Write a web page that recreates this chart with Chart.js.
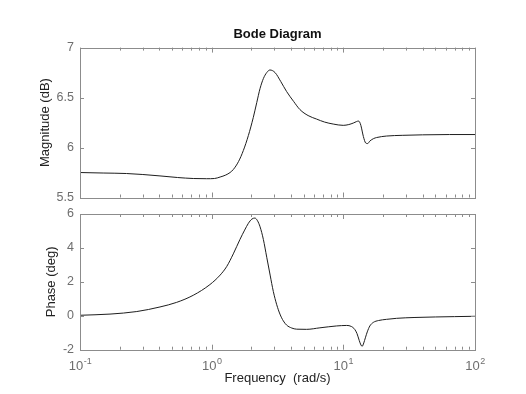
<!DOCTYPE html>
<html>
<head>
<meta charset="utf-8">
<script src="https://cdn.jsdelivr.net/npm/chart.js@4"></script>
<style>
html, body { margin: 0; padding: 0; background: #fff; }
#wrap { position: relative; width: 526px; height: 394px; }
canvas { position: absolute; left: 0; }
</style>
</head>
<body>
<div id="wrap">
  <canvas id="magChart" width="526" height="211" style="top:0"></canvas>
  <canvas id="phaseChart" width="526" height="194" style="top:200px"></canvas>
</div>
<script>
// magnitude curve (rad/s, dB)
const magFreq = [0.1, 0.15, 0.226, 0.3, 0.405, 0.55, 0.725, 0.916, 1.05, 1.16, 1.28, 1.38, 1.46, 1.6, 1.74,
    1.9, 2.07, 2.2, 2.33, 2.47, 2.62, 2.77, 3.03, 3.35, 3.71, 4.2, 4.68, 5.4, 6.26, 7.2, 8.38, 9.98,
    11.0, 11.9, 12.6, 13.0, 13.3, 13.6, 14.2, 14.8, 15.3, 15.9, 17.0, 17.9, 21.3, 28, 40, 64, 100];
const magDb = [5.75, 5.745, 5.74, 5.73, 5.716, 5.70, 5.69, 5.688, 5.69, 5.705, 5.725, 5.75, 5.78, 5.86, 5.97,
    6.12, 6.30, 6.45, 6.59, 6.69, 6.75, 6.776, 6.75, 6.66, 6.56, 6.46, 6.38, 6.32, 6.285, 6.255, 6.235, 6.222,
    6.23, 6.245, 6.26, 6.265, 6.255, 6.22, 6.11, 6.045, 6.04, 6.065, 6.09, 6.10, 6.115, 6.122, 6.127, 6.13, 6.13];

// phase curve (rad/s, deg)
const phaseFreq = [0.1, 0.169, 0.27, 0.405, 0.542, 0.725, 0.97, 1.16, 1.3, 1.46, 1.64, 1.78, 1.9, 2.02, 2.13,
    2.23, 2.33, 2.47, 2.62, 2.78, 2.94, 3.12, 3.3, 3.5, 3.71, 4.05, 4.42, 5.26, 6.64, 8.89, 10.6, 11.5, 12.2,
    12.7, 13.2, 13.6, 13.9, 14.3, 14.7, 15.2, 15.9, 16.9, 18.5, 21.3, 25.4, 35, 50, 70, 100];
const phaseDeg = [0.03, 0.1, 0.25, 0.52, 0.79, 1.21, 1.84, 2.4, 2.9, 3.65, 4.5, 5.05, 5.45, 5.7, 5.76,
    5.6, 5.25, 4.5, 3.45, 2.4, 1.43, 0.65, 0.1, -0.3, -0.55, -0.72, -0.79, -0.80, -0.71, -0.6, -0.57, -0.63, -0.8,
    -1.05, -1.45, -1.72, -1.8, -1.6, -1.3, -0.95, -0.6, -0.39, -0.28, -0.21, -0.15, -0.1, -0.07, -0.05, -0.03];

// x axis decade labels
const decades = [0.1, 1, 10, 100];
const decadeExps = ['-1', '0', '1', '2'];

const FONT = '"Liberation Sans", Arial, Helvetica, sans-serif';
const tickColor = '#6e6e6e';
const boxColor = '#8c8c8c';
const lineColor = '#1e1e1e';

Chart.defaults.font.family = FONT;

const minorTicks = [];
decades.slice(0, 3).forEach(d => {
    for (let k = 1; k <= 9; k++) minorTicks.push(k * d);
});
minorTicks.push(100);

function toPoints(xs, ys) {
    return xs.map((v, i) => ({x: v, y: ys[i]}));
}

// box round the plot and inward ticks, like the matlab axes
const frame = {
    id: 'frame',
    afterDatasetsDraw(chart) {
        const {ctx, chartArea: a, scales: {x, y}} = chart;
        ctx.save();
        ctx.strokeStyle = boxColor;
        ctx.lineWidth = 1;
        ctx.beginPath();
        minorTicks.forEach(v => {
            const px = Math.round(x.getPixelForValue(v)) + 0.5;
            const len = decades.some(d => Math.abs(d - v) < 1e-9) ? 5 : 3;
            ctx.moveTo(px, a.top); ctx.lineTo(px, a.top + len);
            ctx.moveTo(px, a.bottom); ctx.lineTo(px, a.bottom - len);
        });
        y.ticks.forEach(t => {
            const py = Math.round(y.getPixelForValue(t.value)) + 0.5;
            ctx.moveTo(a.left, py); ctx.lineTo(a.left + 4, py);
            ctx.moveTo(a.right, py); ctx.lineTo(a.right - 4, py);
        });
        ctx.stroke();
        ctx.strokeRect(Math.round(a.left) + 0.5, Math.round(a.top) + 0.5,
            Math.round(a.right - a.left), Math.round(a.bottom - a.top));
        ctx.restore();
    }
};

// 10^n labels with a raised exponent
const decadeLabels = {
    id: 'decadeLabels',
    afterDraw(chart) {
        const {ctx, chartArea: a, scales: {x}} = chart;
        ctx.save();
        ctx.fillStyle = tickColor;
        ctx.textBaseline = 'alphabetic';
        ctx.textAlign = 'left';
        const yb = a.bottom + 20.5;
        decades.forEach((v, i) => {
            const px = x.getPixelForValue(v);
            ctx.font = '13px ' + FONT;
            const wb = ctx.measureText('10').width;
            ctx.font = '9px ' + FONT;
            const we = ctx.measureText(decadeExps[i]).width;
            const x0 = px - (wb + we) / 2;
            ctx.font = '13px ' + FONT;
            ctx.fillText('10', x0, yb);
            ctx.font = '9px ' + FONT;
            ctx.fillText(decadeExps[i], x0 + wb + 0.5, yb - 6);
        });
        ctx.restore();
    }
};

function lineSet(points) {
    return {
        data: points,
        borderColor: lineColor,
        borderWidth: 1,
        pointRadius: 0,
        cubicInterpolationMode: 'monotone',
        fill: false
    };
}

const magChart = new Chart(document.getElementById('magChart').getContext('2d'), {
    type: 'line',
    data: { datasets: [lineSet(toPoints(magFreq, magDb))] },
    options: {
        responsive: false,
        animation: false,
        layout: { padding: { left: 0, right: 51, top: 0, bottom: 8.3 } },
        plugins: {
            legend: { display: false },
            tooltip: { enabled: false },
            title: {
                display: true,
                text: 'Bode Diagram',
                fullSize: false,
                color: '#111',
                font: { size: 13, weight: 'bold' },
                padding: { top: 27, bottom: 5 }
            }
        },
        scales: {
            x: { type: 'logarithmic', min: 0.1, max: 100, display: false },
            y: {
                min: 5.5,
                max: 7,
                ticks: { stepSize: 0.5, padding: 6, color: tickColor, font: { size: 12.5 },
                    callback: v => String(v) },
                grid: { display: false, drawTicks: false },
                border: { display: false },
                title: {
                    display: true,
                    text: 'Magnitude (dB)',
                    color: '#222',
                    font: { size: 13 },
                    padding: { top: 38, bottom: 0 }
                },
                afterFit: s => { s.width = 80; }
            }
        }
    },
    plugins: [frame]
});

const phaseChart = new Chart(document.getElementById('phaseChart').getContext('2d'), {
    type: 'line',
    data: { datasets: [lineSet(toPoints(phaseFreq, phaseDeg))] },
    options: {
        responsive: false,
        animation: false,
        layout: { padding: { left: 0, right: 51, top: 14, bottom: 0 } },
        plugins: {
            legend: { display: false },
            tooltip: { enabled: false }
        },
        scales: {
            x: {
                type: 'logarithmic',
                min: 0.1,
                max: 100,
                ticks: { display: false },
                grid: { display: false, drawTicks: false },
                border: { display: false },
                title: {
                    display: true,
                    text: 'Frequency  (rad/s)',
                    color: '#222',
                    font: { size: 13 },
                    padding: { top: 0, bottom: 8.2 }
                },
                afterFit: s => { s.height = 44.3; }
            },
            y: {
                min: -2,
                max: 6,
                ticks: { stepSize: 2, padding: 6, color: tickColor, font: { size: 12.5 } },
                grid: { display: false, drawTicks: false },
                border: { display: false },
                title: {
                    display: true,
                    text: 'Phase (deg)',
                    color: '#222',
                    font: { size: 13 },
                    padding: { top: 44, bottom: 0 }
                },
                afterFit: s => { s.width = 80; }
            }
        }
    },
    plugins: [frame, decadeLabels]
});
</script>
</body>
</html>
